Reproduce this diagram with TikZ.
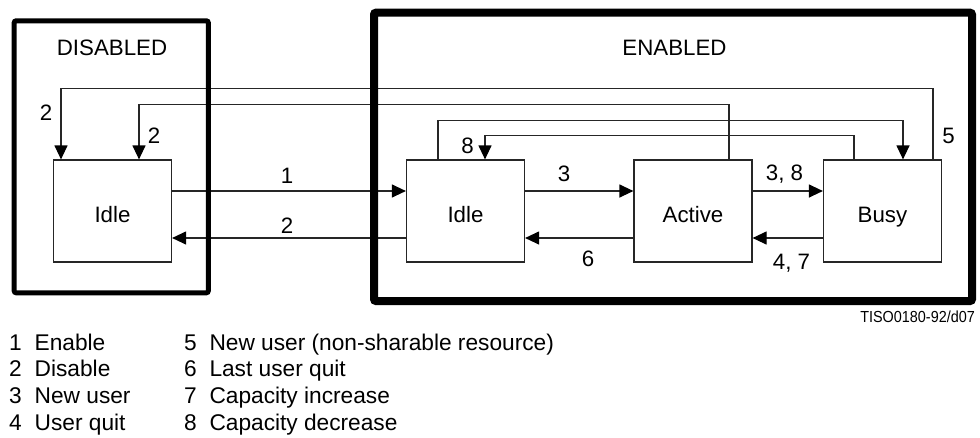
\documentclass[tikz,border=0pt]{standalone}
\usepackage{fontspec}
\setmainfont{Liberation Sans}
\usetikzlibrary{arrows.meta}
\begin{document}
\begin{tikzpicture}[x=1pt,y=-1pt,
  lbl/.style={font=\fontsize{22.3}{26}\selectfont, inner sep=0pt, anchor=base},
  leg/.style={font=\fontsize{22.7}{26}\selectfont, inner sep=0pt, anchor=base west},
  state/.style={draw=black!85, line width=1.2pt, minimum width=118pt, minimum height=102pt,
    inner sep=0pt, font=\fontsize{22.3}{26}\selectfont, text height=22pt, text depth=0pt},
  conn/.style={draw=black!85, line width=1.2pt},
  arr/.style={conn, -{Triangle[length=14pt,width=13pt,black]}},
  group/.style={draw=black, rounded corners=2pt}]
\useasboundingbox (0,0) rectangle (980,437);

% state boxes
\node[state] (dI) at (112.5,211) {Idle};
\node[state] (eI) at (465.5,211) {Idle};
\node[state] (A)  at (693,211)   {Active};
\node[state] (B)  at (882.5,211) {Busy};

% horizontal connectors
\draw[arr] ([yshift=20pt]dI.east) -- ([yshift=20pt]eI.west);
\draw[arr] ([yshift=-27pt]eI.west) -- ([yshift=-27pt]dI.east);
\draw[arr] ([yshift=20pt]eI.east) -- ([yshift=20pt]A.west);
\draw[arr] ([yshift=-27pt]A.west) -- ([yshift=-27pt]eI.east);
\draw[arr] ([yshift=20pt]A.east) -- ([yshift=20pt]B.west);
\draw[arr] ([yshift=-27pt]B.west) -- ([yshift=-27pt]A.east);

% routed connectors over the top
\draw[arr] ([xshift=50.5pt]B.north) -- ++(0,-71) -| ([xshift=-51.5pt]dI.north);
\draw[arr] ([xshift=36pt]A.north) -- ++(0,-55) -| ([xshift=26.5pt]dI.north);
\draw[arr] ([xshift=-27.5pt]eI.north) -- ++(0,-39) -| ([xshift=20.5pt]B.north);
\draw[arr] ([xshift=-28.5pt]B.north) -- ++(0,-24) -| ([xshift=19.5pt]eI.north);

% group frames
\draw[group, line width=5pt] (14.2,20.8) rectangle (208.3,292.8);
\draw[group, line width=8pt] (374,12.7) rectangle (972,301);

% group titles
\node[lbl] (tdis) at (112,55) {DISABLED};
\node[lbl] (ten)  at (674.5,55) {ENABLED};

% connector labels
\node[lbl] (l1)  at (287,183)   {1};
\node[lbl] (l2a) at (287,233)   {2};
\node[lbl] (l2b) at (46,120)    {2};
\node[lbl] (l2c) at (154,143)   {2};
\node[lbl] (l8)  at (467.5,153.5) {8};
\node[lbl] (l3)  at (564,181.5) {3};
\node[lbl] (l6)  at (588,266.5) {6};
\node[lbl] (l38) at (784.5,180.5) {3, 8};
\node[lbl] (l47) at (791.5,269.5) {4, 7};
\node[lbl] (l5)  at (948.5,143) {5};

% figure code
\node[inner sep=0pt, anchor=base east, font=\fontsize{16}{19}\selectfont] (code) at (975,322)
  {\scalebox{0.9}[1]{TISO0180-92/d07}};

% legend
\foreach \n/\t/\yy in {1/Enable/350, 2/Disable/376.8, 3/New user/403.5, 4/User quit/430.5}
  {\node[leg] (d\n) at (9,\yy) {\n};
   \node[leg] (w\n) at (34.5,\yy) {\t};}
\foreach \n/\t/\yy in {5/New user (non-sharable resource)/350, 6/Last user quit/376.8,
                       7/Capacity increase/403.5, 8/Capacity decrease/430.5}
  {\node[leg] (d\n) at (184,\yy) {\n};
   \node[leg] (w\n) at (209.3,\yy) {\t};}
\end{tikzpicture}
\end{document}
